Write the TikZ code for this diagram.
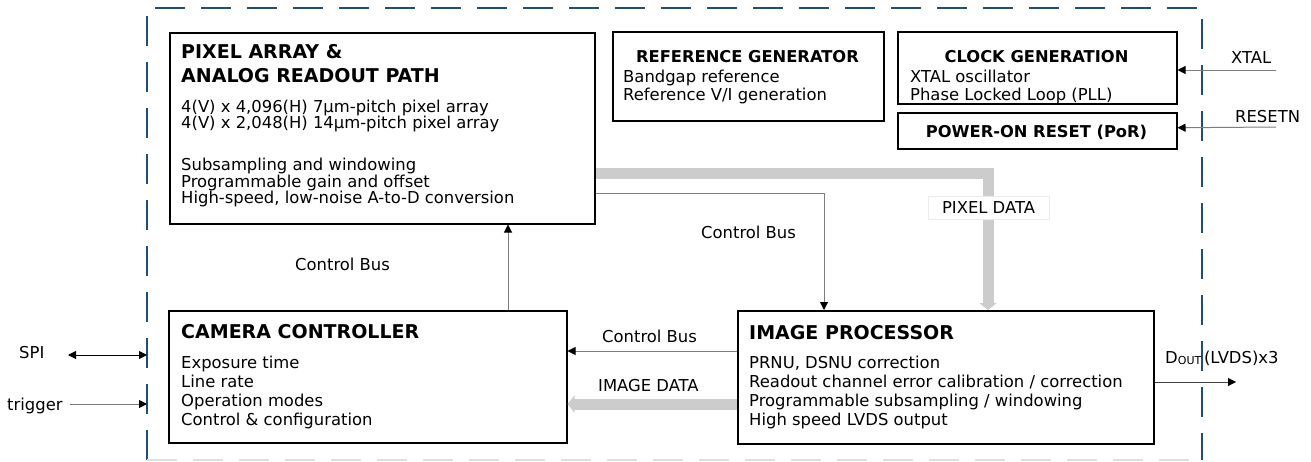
\documentclass[tikz,border=0pt]{standalone}
\usepackage{fontspec}
\setmainfont{DejaVu Sans}
\usetikzlibrary{arrows.meta}
\definecolor{bordblue}{RGB}{31,78,121}
\definecolor{buscol}{RGB}{204,204,204}
\definecolor{thincol}{RGB}{125,125,125}
\tikzset{
  blk/.style={draw=black, line width=1.5pt, inner sep=0pt, anchor=north west},
  body/.style={anchor=base west, inner sep=0pt, font=\fontsize{16.4}{19}\selectfont},
  head/.style={anchor=base west, inner sep=0pt, font=\fontsize{19}{22}\selectfont\bfseries},
  shead/.style={anchor=base, inner sep=0pt, font=\fontsize{16.3}{19}\selectfont\bfseries},
  conn/.style={draw=thincol, line width=1pt, -{Triangle[length=8pt,width=8pt,color=black]}},
  bus/.style={draw=buscol, line width=11pt, -{Triangle[length=7pt,width=17pt]}},
}
\begin{document}
\begin{tikzpicture}[x=1pt,y=-1pt]
\useasboundingbox (0,0) rectangle (1311,461);
% border
\draw[bordblue, line width=2pt, dash pattern=on 30pt off 16pt] (147,460) -- (147,8) -- (1202,8) -- (1202,460);
\draw[gray!25, line width=1.5pt, dash pattern=on 30pt off 16pt] (147,460) -- (1202,460);

% blocks
\node[blk, minimum width=425pt, minimum height=191pt] (pix) at (169,32) {};
\node[blk, minimum width=271pt, minimum height=89pt] (ref) at (612,31) {};
\node[blk, minimum width=279pt, minimum height=72pt] (clk) at (897,31) {};
\node[blk, minimum width=279pt, minimum height=36pt] (por) at (897,112) {};
\node[blk, minimum width=398pt, minimum height=132pt] (cam) at (168,310) {};
\node[blk, minimum width=416pt, minimum height=133pt] (ip) at (737,310) {};

% pixel array text
\node[head] (pixh1) at (181,58) {PIXEL ARRAY \&};
\node[head] (pixh2) at (181,82) {ANALOG READOUT PATH};
\node[body] (pixb1) at (181,112) {4(V) x 4,096(H) 7µm-pitch pixel array};
\node[body] (pixb2) at (181,128.7) {4(V) x 2,048(H) 14µm-pitch pixel array};
\node[body] (pixb3) at (181,170) {Subsampling and windowing};
\node[body] (pixb4) at (181,187) {Programmable gain and offset};
\node[body] (pixb5) at (181,203.5) {High-speed, low-noise A-to-D conversion};

% reference generator
\node[shead] (refh) at (747.5,62) {REFERENCE GENERATOR};
\node[body] (refb1) at (623,82) {Bandgap reference};
\node[body] (refb2) at (623,100) {Reference V/I generation};

% clock generation
\node[shead] (clkh) at (1036.5,62) {CLOCK GENERATION};
\node[body] (clkb1) at (910,82) {XTAL oscillator};
\node[body] (clkb2) at (910,100) {Phase Locked Loop (PLL)};

% power on reset
\node[shead] (porh) at (1036.5,137) {POWER-ON RESET (PoR)};

% camera controller
\node[head] (camh) at (181,338) {CAMERA CONTROLLER};
\node[body] (camb1) at (181,368) {Exposure time};
\node[body] (camb2) at (181,387) {Line rate};
\node[body] (camb3) at (181,406) {Operation modes};
\node[body] (camb4) at (181,425) {Control \& configuration};

% image processor
\node[head] (iph) at (749,339) {IMAGE PROCESSOR};
\node[body] (ipb1) at (749,368) {PRNU, DSNU correction};
\node[body] (ipb2) at (749,387) {Readout channel error calibration / correction};
\node[body] (ipb3) at (749,406.5) {Programmable subsampling / windowing};
\node[body] (ipb4) at (749,425) {High speed LVDS output};

% buses
\draw[bus] ([yshift=-141pt]pix.north east) -| ([xshift=251pt]ip.north west);
\draw[bus] ([yshift=-94pt]ip.north west) -- ([yshift=-94pt]cam.north east);
\node[draw=gray!15, fill=white, line width=0.8pt, minimum width=121pt, minimum height=23pt, inner sep=0pt, font=\fontsize{16.4}{19}\selectfont] (pdl) at (988.5,207.5) {PIXEL DATA};

% thin connectors
\draw[conn] ([xshift=340pt]cam.north west) -- ([xshift=339pt]pix.south west);
\draw[conn] ([yshift=-161pt]pix.north east) -| ([xshift=87pt]ip.north west);
\draw[conn] ([yshift=-41pt]ip.north west) -- ([yshift=-41pt]cam.north east);

% labels
\node[body] (cb1) at (295,270) {Control Bus};
\node[body] (cb2) at (701,238) {Control Bus};
\node[body] (cb3) at (602,342) {Control Bus};
\node[body] (idl) at (598,391) {IMAGE DATA};

% external signals
\node[body] (spi) at (19,358) {SPI};
\node[body] (trig) at (7,410) {trigger};
\node[body] (xtal) at (1231,63) {XTAL};
\node[body] (rstn) at (1235,122) {RESETN};
\node[body] (doutl) at (1165,363) {D\raisebox{-1.5pt}{\fontsize{11}{12}\selectfont OUT}\,(LVDS)x3};

\coordinate (spiL) at (68,355);
\coordinate (spiR) at (147,355);
\coordinate (trigL) at (70,404);
\coordinate (trigR) at (147,404);
\coordinate (xtalR) at (1276,70);
\coordinate (rstR) at (1276,127);
\coordinate (doutR) at (1236,382);

\draw[black, line width=1pt, {Triangle[length=8pt,width=8pt]}-{Triangle[length=8pt,width=8pt]}] (spiL) -- (spiR);
\draw[conn] (trigL) -- (trigR);
\draw[conn] (xtalR) -- ([yshift=-39pt]clk.north east);
\draw[conn] (rstR) -- ([yshift=3pt]por.east);
\draw[conn, draw=black!75] ([yshift=-72pt]ip.north east) -- (doutR);
\end{tikzpicture}
\end{document}
